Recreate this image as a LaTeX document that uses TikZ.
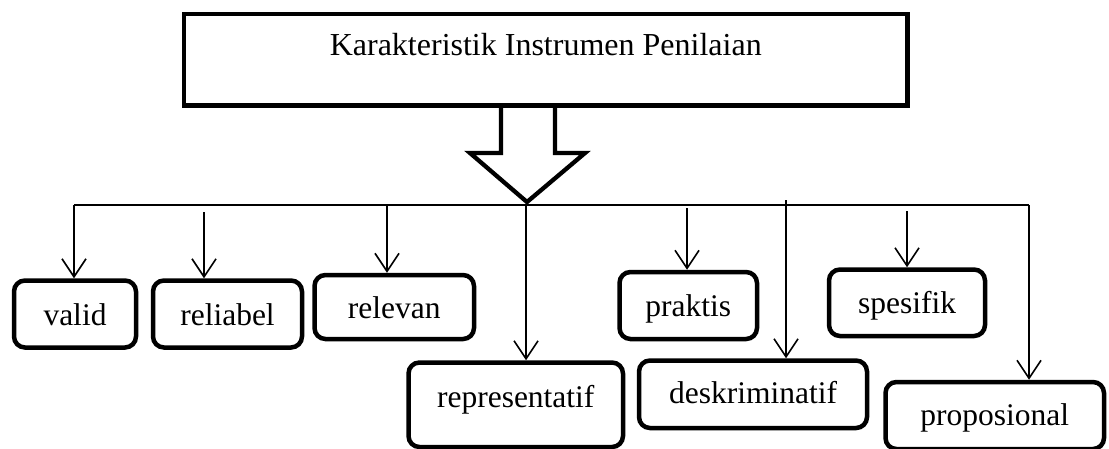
\documentclass[tikz,border=0pt]{standalone}
\usepackage{fontspec}
\setmainfont{Liberation Serif}
\usetikzlibrary{arrows.meta}
\begin{document}
\begin{tikzpicture}[x=1pt,y=-1pt,
  box/.style={draw, line width=4.5pt, rounded corners=11pt, inner sep=0pt, text depth=0pt, font=\fontsize{31.5}{36}\selectfont},
  conn/.style={line width=1.6pt},
  arr/.style={conn, -{Straight Barb[length=18pt,width=24pt]}}]
\useasboundingbox (0,0) rectangle (1109,448);
% title
\node[draw, line width=4.5pt, inner sep=0pt, minimum width=723.5pt, minimum height=91.5pt,
      text height=5pt, text depth=14.5pt, font=\fontsize{32}{38}\selectfont] (title) at (545.75,59.75) {Karakteristik Instrumen Penilaian};
% boxes
\node[box, minimum width=122pt, minimum height=67pt, text height=22pt] (valid) at (75,314) {valid};
\node[box, minimum width=149pt, minimum height=67pt, text height=22pt] (reliabel) at (227.5,314) {reliabel};
\node[box, minimum width=159.5pt, minimum height=64pt, text height=22pt] (relevan) at (394.25,307) {relevan};
\node[box, minimum width=214.5pt, minimum height=84.5pt, text height=4.5pt] (representatif) at (515.75,404.75) {representatif};
\node[box, minimum width=137.5pt, minimum height=67pt, text height=21pt] (praktis) at (688.25,305.5) {praktis};
\node[box, minimum width=228pt, minimum height=67.5pt, text height=17.5pt] (deskriminatif) at (753,394.25) {deskriminatif};
\node[box, minimum width=156pt, minimum height=66.5pt, text height=20.5pt] (spesifik) at (907,302.75) {spesifik};
\node[box, minimum width=218.5pt, minimum height=67pt, text height=19pt] (proposional) at (994.75,415.5) {proposional};
% hollow arrow
\draw[line width=4.3pt] (501,103.5) -- (501,153) -- (470,153) -- (527,202) -- (585,153) -- (555,153) -- (555,103.5);
% branch points
\coordinate (s1) at (74,205);
\coordinate (s2) at (204,212);
\coordinate (s3) at (387,205);
\coordinate (s4) at (526,205);
\coordinate (s5) at (687,208);
\coordinate (s6) at (786,200);
\coordinate (s7) at (907,211);
\coordinate (s8) at (1029,205);
\draw[conn] (s1) -- (s8);
\draw[arr] (s1) -- (s1 |- valid.north);
\draw[arr] (s2) -- (s2 |- reliabel.north);
\draw[arr] (s3) -- (s3 |- relevan.north);
\draw[arr] (s4) -- (s4 |- representatif.north);
\draw[arr] (s5) -- (s5 |- praktis.north);
\draw[arr] (s6) -- (s6 |- deskriminatif.north);
\draw[arr] (s7) -- (s7 |- spesifik.north);
\draw[arr] (s8) -- (s8 |- proposional.north);
\end{tikzpicture}
\end{document}
